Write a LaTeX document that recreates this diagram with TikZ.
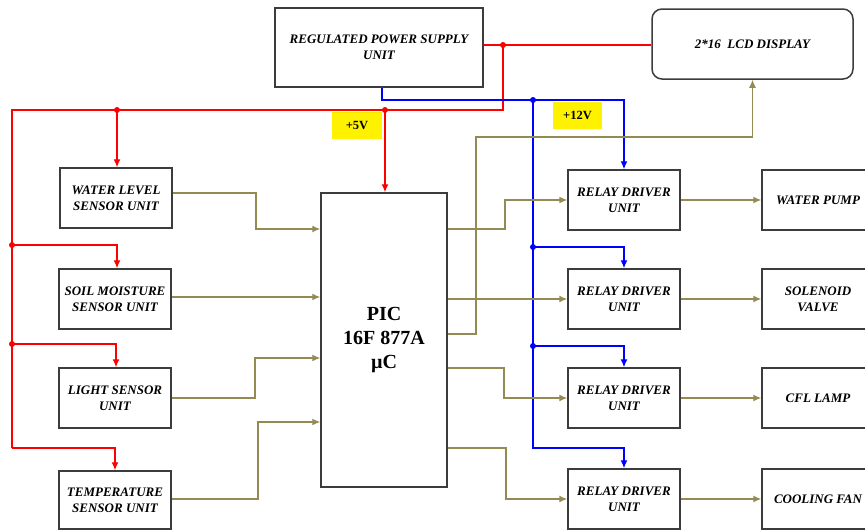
\documentclass[tikz,border=0pt]{standalone}
\usepackage{fontspec}
\setmainfont{Liberation Serif}
\usetikzlibrary{arrows.meta}
\definecolor{olivec}{RGB}{148,138,84}
\definecolor{boxc}{RGB}{60,60,60}
\definecolor{redc}{RGB}{255,0,0}
\definecolor{bluec}{RGB}{0,0,255}
\begin{document}
\begin{tikzpicture}[x=1pt,y=-1pt,
  blk/.style={draw=boxc,line width=1.5pt,minimum width=112pt,minimum height=60pt,inner sep=1pt,
    align=center,font=\bfseries\itshape\fontsize{13}{16}\selectfont},
  tip/.style={-{Latex[length=8pt,width=7pt]}},
  olv/.style={draw=olivec,line width=1.25pt},
  rd/.style={draw=redc,line width=1.25pt},
  bl/.style={draw=bluec,line width=1.25pt},
  rdot/.style={fill=redc,circle,inner sep=0pt,minimum size=6pt},
  bdot/.style={fill=bluec,circle,inner sep=0pt,minimum size=6pt},
  ylab/.style={fill=yellow,minimum height=27pt,inner sep=0pt,font=\bfseries\fontsize{12.5}{14}\selectfont}]
\useasboundingbox (0,0) rectangle (865,530);
% boxes
\node[blk,minimum width=208pt,minimum height=79pt] (psu) at (379,47.5) {REGULATED POWER SUPPLY\\UNIT};
\node[blk,rounded corners=10pt,minimum width=201pt,minimum height=70pt] (lcd) at (752.5,44) {2*16\ \ LCD DISPLAY};
\node[blk] (water) at (116,198) {WATER LEVEL\\SENSOR UNIT};
\node[blk] (soil) at (115,299) {SOIL MOISTURE\\SENSOR UNIT};
\node[blk] (light) at (115,398) {LIGHT SENSOR\\UNIT};
\node[blk,minimum height=58pt] (temp) at (115,500) {TEMPERATURE\\SENSOR UNIT};
\node[blk,minimum width=126pt,minimum height=294pt,font=\bfseries\fontsize{20}{24}\selectfont] (pic) at (384,340) {PIC\\16F 877A\\µC};
\node[blk] (r1) at (624,200) {RELAY DRIVER\\UNIT};
\node[blk] (r2) at (624,299) {RELAY DRIVER\\UNIT};
\node[blk] (r3) at (624,398) {RELAY DRIVER\\UNIT};
\node[blk] (r4) at (624,499) {RELAY DRIVER\\UNIT};
\node[blk] (o1) at (818,200) {WATER PUMP};
\node[blk] (o2) at (818,299) {SOLENOID\\VALVE};
\node[blk] (o3) at (818,398) {CFL LAMP};
\node[blk] (o4) at (818,499) {COOLING FAN};
\node[ylab,minimum width=50pt] (v5) at (357,125.5) {+5V};
\node[ylab,minimum width=49pt] (v12) at (577.5,115.5) {+12V};
% red supply
\coordinate (j1) at (503,45);
\coordinate (j2) at (385,110);
\coordinate (j3) at (117,110);
\coordinate (j4) at (12,245);
\coordinate (j5) at (12,344);
\draw[rd] (psu.east |- j1) -- (lcd.west |- j1);
\draw[rd] (j1) -- (503,110) -- (12,110) -- (12,448);
\draw[rd,tip] (j2) -- (pic.north -| j2);
\draw[rd,tip] (j3) -- (water.north -| j3);
\draw[rd,tip] (j4) -| (soil.north -| 117,0);
\draw[rd,tip] (j5) -| (light.north -| 116,0);
\draw[rd,tip] (12,448) -| (temp.north -| 115,0);
\foreach \p in {j1,j2,j3,j4,j5} \node[rdot] at (\p) {};
% blue supply
\coordinate (b1) at (533,100);
\coordinate (b2) at (533,247);
\coordinate (b3) at (533,346);
\draw[bl,tip] (psu.south -| 382,0) -- (382,100) -| (r1.north);
\draw[bl,tip] (b1) -- (533,448) -| (r4.north);
\draw[bl,tip] (b2) -| (r2.north);
\draw[bl,tip] (b3) -| (r3.north);
\foreach \p in {b1,b2,b3} \node[bdot] at (\p) {};
% sensor inputs
\draw[olv,tip] (water.east |- 0,193) -- (256,193) |- (pic.west |- 0,229);
\draw[olv,tip] (soil.east |- 0,297) -- (pic.west |- 0,297);
\draw[olv,tip] (light.east |- 0,398) -- (255,398) |- (pic.west |- 0,358);
\draw[olv,tip] (temp.east |- 0,499) -- (258,499) |- (pic.west |- 0,422);
% outputs
\draw[olv,tip] (pic.east |- 0,229) -- (505,229) |- (r1.west);
\draw[olv,tip] (pic.east |- r2.west) -- (r2.west);
\draw[olv,tip] (pic.east |- 0,368) -- (504,368) |- (r3.west);
\draw[olv,tip] (pic.east |- 0,448) -- (506,448) |- (r4.west);
\draw[olv,tip] (pic.east |- 0,334) -- (476,334) |- (lcd.south |- 0,137) -- (lcd.south);
\draw[olv,tip] (r1.east) -- (o1.west);
\draw[olv,tip] (r2.east) -- (o2.west);
\draw[olv,tip] (r3.east) -- (o3.west);
\draw[olv,tip] (r4.east) -- (o4.west);
\end{tikzpicture}
\end{document}
